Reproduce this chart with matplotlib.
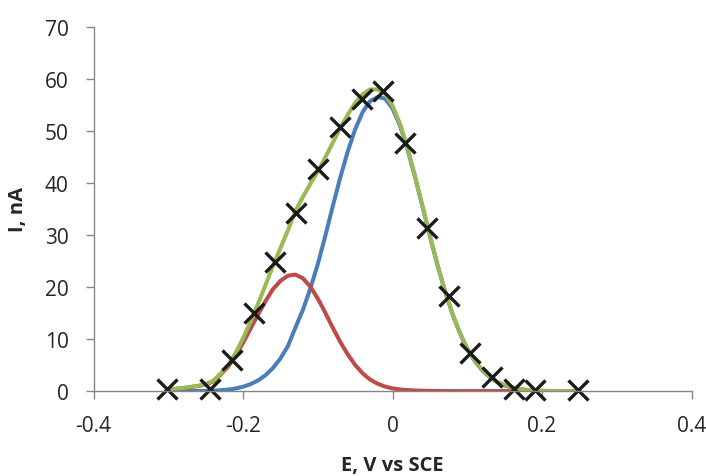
import matplotlib
matplotlib.use("Agg")
import matplotlib.pyplot as plt
import numpy as np

plt.rcParams['font.family'] = ['Open Sans', 'DejaVu Sans']

# measured points (crosses)
E_meas = [-0.302, -0.244, -0.215, -0.1855, -0.157, -0.1286, -0.0996, -0.0705, -0.0413,
          -0.0132, 0.0168, 0.0459, 0.0749, 0.104, 0.133, 0.162, 0.190, 0.248]
I_meas = [0.4, 0.5, 6.0, 15.0, 24.8, 34.2, 42.7, 50.7, 56.1,
          57.7, 47.7, 31.3, 18.2, 7.35, 2.7, 0.4, 0.3, 0.3]

# fitted curves
E_fit = [-0.30, -0.29, -0.28, -0.27, -0.26, -0.25, -0.24, -0.23, -0.22, -0.21,
         -0.20, -0.19, -0.18, -0.17, -0.16, -0.15, -0.14, -0.13, -0.12, -0.11,
         -0.10, -0.09, -0.08, -0.07, -0.06, -0.05, -0.04, -0.03, -0.02, -0.01,
         0.00, 0.01, 0.02, 0.03, 0.04, 0.05, 0.06, 0.07, 0.08, 0.09,
         0.10, 0.11, 0.12, 0.13, 0.14, 0.15, 0.16, 0.17, 0.18, 0.19,
         0.20, 0.21, 0.22, 0.23, 0.24, 0.25]
I_peak1 = [0.35, 0.45, 0.60, 0.80, 1.0, 1.3, 1.9, 3.2, 4.7, 6.8,
           9.3, 12.0, 14.7, 17.3, 19.6, 21.2, 22.2, 22.4, 21.7, 20.1,
           17.8, 15.1, 12.2, 9.5, 7.1, 5.05, 3.45, 2.25, 1.45, 0.9,
           0.55, 0.35, 0.22, 0.15, 0.10, 0.08, 0.06, 0.05, 0.04, 0.04,
           0.04, 0.04, 0.04, 0.04, 0.04, 0.04, 0.04, 0.04, 0.04, 0.04,
           0.04, 0.04, 0.04, 0.04, 0.04, 0.04]
I_peak2 = [0.03, 0.03, 0.04, 0.05, 0.06, 0.08, 0.12, 0.20, 0.33, 0.54,
           0.87, 1.36, 2.07, 3.08, 4.46, 6.29, 8.67, 12.2, 15.6, 19.7,
           24.4, 29.8, 35.5, 41.0, 46.0, 50.3, 53.6, 55.7, 56.5, 56.2,
           54.3, 51.0, 46.5, 41.2, 35.5, 29.8, 24.3, 19.3, 14.9, 11.2,
           8.17, 5.80, 4.01, 2.70, 1.76, 1.12, 0.69, 0.42, 0.24, 0.13,
           0.07, 0.04, 0.02, 0.01, 0.01, 0.01]
I_sum = [0.38, 0.48, 0.64, 0.85, 1.06, 1.38, 2.02, 3.4, 5.03, 7.34,
         10.17, 13.36, 16.77, 20.38, 24.06, 27.49, 30.87, 34.6, 37.3, 39.8,
         42.2, 44.9, 47.7, 50.5, 53.1, 55.35, 57.05, 57.95, 57.95, 57.1,
         54.85, 51.35, 46.72, 41.35, 35.6, 29.88, 24.36, 19.35, 14.94, 11.24,
         8.21, 5.84, 4.05, 2.74, 1.80, 1.16, 0.73, 0.46, 0.28, 0.17,
         0.11, 0.08, 0.06, 0.05, 0.05, 0.05]

fig = plt.figure(figsize=(7.06, 4.77), dpi=100)
ax = fig.add_axes([0.1325, 0.1776, 0.847, 0.7644])

line_kw = dict(lw=2.9, solid_capstyle='round', solid_joinstyle='round')
ax.plot(E_fit, I_peak2, color='#4a7ebb', **line_kw)
ax.plot(E_fit, I_peak1, color='#be4b48', **line_kw)
ax.plot(E_fit, I_sum, color='#98b954', **line_kw)
ax.plot(E_meas, I_meas, ls='none', marker='x', ms=14, mew=2.4, color='#1a1a1a', clip_on=False)

ax.set_xlim(-0.4, 0.4)
ax.set_ylim(0, 70)
ax.set_xticks([-0.4, -0.2, 0, 0.2, 0.4])
ax.set_xticklabels(['-0.4', '-0.2', '0', '0.2', '0.4'])
ax.set_yticks(np.arange(0, 71, 10))

for s in ['top', 'right']:
    ax.spines[s].set_visible(False)
for s in ['left', 'bottom']:
    ax.spines[s].set_color('#868686')
    ax.spines[s].set_linewidth(1.0)
ax.tick_params(direction='out', length=6, width=1.0, color='#868686',
               labelsize=15, labelcolor='#262626')
ax.tick_params(axis='y', pad=12)
ax.tick_params(axis='x', pad=11)

ax.set_xlabel('E, V vs SCE', fontsize=14.5, fontweight='bold', color='#262626', labelpad=13.5)
ax.set_ylabel('I, nA', fontsize=14.5, fontweight='bold', color='#262626', labelpad=12)

fig.savefig('out.png', dpi=100)
